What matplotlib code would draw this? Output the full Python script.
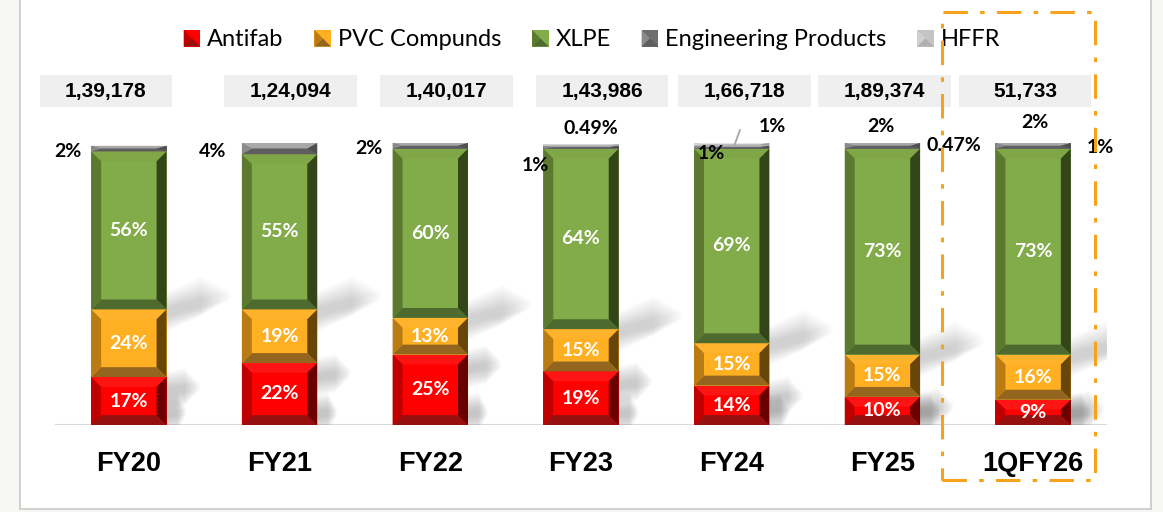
import matplotlib.pyplot as plt
import numpy as np
from matplotlib.patches import Polygon, Rectangle
from matplotlib.legend_handler import HandlerBase

# ---- data ----
categories = ["FY20", "FY21", "FY22", "FY23", "FY24", "FY25", "1QFY26"]
totals = ["1,39,178", "1,24,094", "1,40,017", "1,43,986", "1,66,718", "1,89,374", "51,733"]
series = ["Antifab", "PVC Compunds", "XLPE", "Engineering Products", "HFFR"]
antifab = [17, 22, 25, 19, 14, 10, 9]
pvc = [24, 19, 13, 15, 15, 15, 16]
xlpe = [56, 55, 60, 64, 69, 73, 73]
eng = [2, 4, 2, 1, 1, 2, 2]
hffr = [0, 0, 0, 0.49, 1, 0.47, 1]
eng_text = ["2%", "4%", "2%", "1%", "1%", "2%", "2%"]
hffr_text = [None, None, None, "0.49%", "1%", "0.47%", "1%"]

# ---- styles ----
# face, top, left, right, bottom
shades = {
    "Antifab": ["#FF0000", "#FF1414", "#C00000", "#6A0000", "#961010"],
    "PVC Compunds": ["#FFAF22", "#FFB22C", "#B97B12", "#684508", "#93651E"],
    "XLPE": ["#82AB4A", "#7FA748", "#5B7A30", "#33461A", "#4F6A2E"],
    "Engineering Products": ["#6E6E6E", "#A8A8A8", "#8A8A8A", "#4F4F4F", "#5E5E5E"],
    "HFFR": ["#C4C4C4", "#E4E4E4", "#D0D0D0", "#9A9A9A", "#B0B0B0"],
}
# label offsets in pixels from the small segment centre
eng_off = [(-61, -3), (-67, -3), (-61, -3), (-46, -18), (-20, -6), (-2, 19), (2, 23)]
hffr_off = [None, None, None, (7, 17), (38, 18), (68, -3), (64, -6)]
# horizontal shift of the total boxes, in pixels
box_shift = [-23, 11, 16, 21, 13, 2, -8]

W, H = 1163, 512
fig = plt.figure(figsize=(W / 100, H / 100), dpi=100)
fig.patch.set_facecolor("#F6F6F3")
fig.add_artist(Rectangle((20 / W, 3 / H), 1131 / W, 1.1, transform=fig.transFigure,
                         facecolor="white", edgecolor="#C8C8C8", lw=1.2, zorder=0))

ax = fig.add_axes([55 / W, 1 - 425 / H, 1052 / W, 282 / H])
ax.patch.set_alpha(0)
ax.set_xlim(-0.49, len(categories) - 0.51)
ax.set_ylim(0, 100)
for s in ax.spines.values():
    s.set_visible(False)
ax.axhline(0, color="#D9D9D9", lw=2.2, zorder=1)
ax.set_yticks([])
ax.set_xticks(range(len(categories)))
ax.set_xticklabels(categories, fontsize=19.5, fontweight="bold", family="Liberation Sans")
ax.tick_params(axis="x", length=0, pad=19)

bar_w = 0.5
ix = 0.066
iy = 3.5
px = (len(categories) - 0.02) / 1052  # data units per pixel in x


def bevel_box(ax, xc, y0, h, cols):
    if h <= 0:
        return
    x0, x1 = xc - bar_w / 2, xc + bar_w / 2
    y1 = y0 + h
    dy = min(iy, h / 2)
    dx = ix
    face, top, left, right, bottom = cols
    polys = [
        ([(x0, y0), (x1, y0), (x1, y1), (x0, y1)], face),
        ([(x0, y1), (x1, y1), (x1 - dx, y1 - dy), (x0 + dx, y1 - dy)], top),
        ([(x0, y0), (x1, y0), (x1 - dx, y0 + dy), (x0 + dx, y0 + dy)], bottom),
        ([(x0, y0), (x0 + dx, y0 + dy), (x0 + dx, y1 - dy), (x0, y1)], left),
        ([(x1, y0), (x1 - dx, y0 + dy), (x1 - dx, y1 - dy), (x1, y1)], right),
    ]
    for pts, c in polys:
        ax.add_patch(Polygon(pts, closed=True, facecolor=c, edgecolor="none", zorder=3))


def shadow(ax, xr, yb, length, rise, thick, strength):
    # soft grey streak cast up and to the right of a bar
    n = 12
    for k in range(n):
        g = k * 0.5
        ln = length * (1 - k * 0.04)
        pts = [(xr, yb - thick / 2 - g), (xr + ln, yb + rise - thick / 2 - g),
               (xr + ln, yb + rise + thick / 2 + g), (xr, yb + thick / 2 + g)]
        ax.add_patch(Polygon(pts, closed=True, facecolor="#5A5A5A", edgecolor="none",
                             alpha=strength, antialiased=True, zorder=2))


values = [antifab, pvc, xlpe, eng, hffr]
x = np.arange(len(categories))
for i, xc in enumerate(x):
    base = 0
    for name, vals in zip(series, values):
        bevel_box(ax, xc, base, vals[i], shades[name])
        base += vals[i]
    xr = xc + bar_w / 2
    shadow(ax, xr, antifab[i] + pvc[i] - 1, 0.42, 6, 3, 0.022)
    shadow(ax, xr, antifab[i] - 5, 0.22, 1.5, 2.5, 0.026)
    shadow(ax, xr, 4, 0.13, 0.5, 2.5, 0.03)

# inside labels
lab_font = dict(family="Lato", fontweight="bold", fontsize=14)
for i, xc in enumerate(x):
    base = 0
    for vals in (antifab, pvc, xlpe):
        ax.text(xc, base + vals[i] / 2, f"{vals[i]}%", color="white", ha="center",
                va="center", zorder=5, **lab_font)
        base += vals[i]
    e_mid = base + eng[i] / 2
    dx, dy = eng_off[i]
    ax.annotate(eng_text[i], (xc, e_mid), xytext=(dx, dy), textcoords="offset pixels",
                ha="center", va="center", color="black", zorder=6,
                annotation_clip=False, **lab_font)
    if hffr_text[i] is not None:
        h_mid = base + eng[i] + hffr[i] / 2
        dx, dy = hffr_off[i]
        arrow = None
        if categories[i] == "FY24":
            arrow = dict(arrowstyle="-", color="#A6A6A6", lw=1.3,
                         connectionstyle="angle,angleA=180,angleB=70,rad=0",
                         shrinkA=12, shrinkB=0, relpos=(0, 0.5))
        ax.annotate(hffr_text[i], (xc + 0.02, h_mid), xytext=(dx, dy),
                    textcoords="offset pixels", ha="center", va="center", color="black",
                    zorder=6, arrowprops=arrow, annotation_clip=False, **lab_font)

# total boxes
for i, xc in enumerate(x):
    bx = xc + box_shift[i] * px
    ax.add_patch(Rectangle((bx - 0.44, 112.8), 0.88, 11.3, facecolor="#EFEFEF",
                           edgecolor="none", clip_on=False, zorder=4))
    ax.text(bx, 118.4, totals[i], ha="center", va="center", fontsize=15,
            fontweight="bold", family="Liberation Sans", zorder=5)

# highlight box around the last quarter
fig.add_artist(Rectangle((942 / W, 1 - 480 / H), 153 / W, 468 / H, transform=fig.transFigure,
                         facecolor="none", edgecolor="#F7A21B", lw=2.2,
                         linestyle=(0, (8, 4, 1.5, 4)), zorder=10))


# legend with bevelled square markers
class BevelHandler(HandlerBase):
    def __init__(self, cols):
        super().__init__()
        self.cols = cols

    def create_artists(self, legend, orig_handle, xdescent, ydescent, width, height,
                       fontsize, trans):
        s = min(width, height)
        x0 = -xdescent + (width - s)
        y0 = -ydescent + (height - s) / 2
        sq = Polygon([(x0, y0), (x0 + s, y0), (x0 + s, y0 + s), (x0, y0 + s)],
                     facecolor=self.cols[0], edgecolor="none", transform=trans)
        tri = Polygon([(x0, y0), (x0 + s / 2, y0 + s / 2), (x0, y0 + s)],
                      facecolor=self.cols[2], edgecolor="none", transform=trans)
        bot = Polygon([(x0, y0), (x0 + s, y0), (x0 + s / 2, y0 + s / 2)],
                      facecolor=self.cols[4], edgecolor="none", transform=trans)
        return [sq, bot, tri]


handles = [Rectangle((0, 0), 1, 1) for _ in series]
fig.legend(handles, series, loc="center", bbox_to_anchor=(592 / W, 1 - 40 / H), ncol=5,
           frameon=False, prop=dict(family="Lato", size=17), handlelength=0.7,
           handleheight=0.7, handletextpad=0.3, columnspacing=1.3,
           handler_map={h: BevelHandler(shades[n]) for h, n in zip(handles, series)})

fig.savefig("out.png", dpi=100, facecolor=fig.get_facecolor())
